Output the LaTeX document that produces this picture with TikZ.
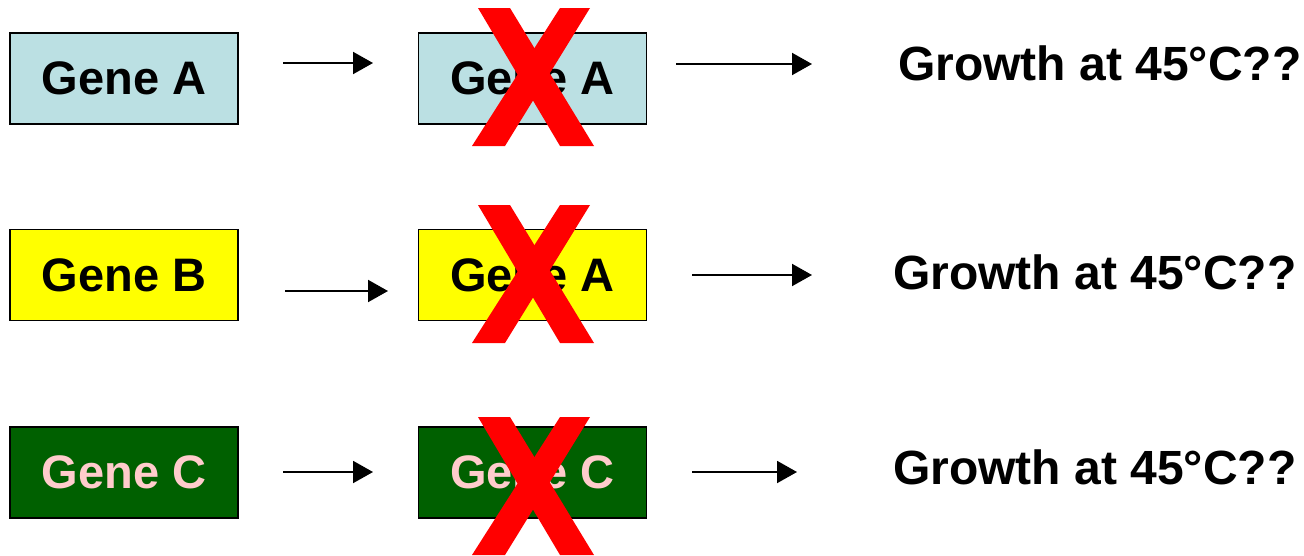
\documentclass[tikz,border=0pt]{standalone}
\usepackage{fontspec}
\setmainfont{Liberation Sans}
\usetikzlibrary{arrows.meta}
\definecolor{lblue}{HTML}{BBE0E3}
\definecolor{pureyellow}{HTML}{FFFF00}
\definecolor{dgreen}{HTML}{006000}
\definecolor{pinktxt}{HTML}{FFCCCC}
\definecolor{pured}{HTML}{FF0000}
\newcommand\redcross[2]{%
  \fill[pured, shift={(#1,#2)}] (-55,-69) -- (-23,-69) -- (61,69) -- (27,69) -- cycle;
  \fill[pured, shift={(#1,#2)}] (27,-69) -- (57,-69) -- (-28,69) -- (-61,69) -- cycle;
}
\begin{document}
\begin{tikzpicture}[x=1pt,y=-1pt,
  genebox/.style={draw=black, line width=1.5pt, minimum width=228pt, minimum height=91pt, inner sep=0pt, font=\fontsize{47}{56}\selectfont\bfseries},
  conn/.style={line width=2pt, -{Triangle[length=20pt,width=22pt]}},
  growth/.style={anchor=west, inner sep=0pt, font=\fontsize{48}{57}\selectfont\bfseries}]
\useasboundingbox (0,0) rectangle (1304,555);
% row 1
\node[genebox, fill=lblue] (a1) at (124,78.5) {Gene A};
\node[genebox, fill=lblue] (a2) at (532.5,78.5) {Gene A};
\node[growth] (g1) at (898,63) {Growth at 45°C??};
\coordinate (p1s) at (283,63); \coordinate (p1e) at (373,63);
\coordinate (q1s) at (676,64); \coordinate (q1e) at (812,64);
\draw[conn] (p1s) -- (p1e);
\draw[conn] (q1s) -- (q1e);
% row 2
\node[genebox, fill=pureyellow] (b1) at (124,275) {Gene B};
\node[genebox, fill=pureyellow] (b2) at (532.5,275) {Gene A};
\node[growth] (g2) at (893,272) {Growth at 45°C??};
\coordinate (p2s) at (285,291); \coordinate (p2e) at (388,291);
\coordinate (q2s) at (692,275); \coordinate (q2e) at (812,275);
\draw[conn] (p2s) -- (p2e);
\draw[conn] (q2s) -- (q2e);
% row 3
\node[genebox, fill=dgreen, text=pinktxt] (c1) at (124,472.5) {Gene C};
\node[genebox, fill=dgreen, text=pinktxt] (c2) at (532.5,472.5) {Gene C};
\node[growth] (g3) at (893,467) {Growth at 45°C??};
\coordinate (p3s) at (283,472); \coordinate (p3e) at (373,472);
\coordinate (q3s) at (692,472); \coordinate (q3e) at (797,472);
\draw[conn] (p3s) -- (p3e);
\draw[conn] (q3s) -- (q3e);
% crosses
\redcross{533}{77}
\redcross{533}{274}
\redcross{533}{486}
\end{tikzpicture}
\end{document}
